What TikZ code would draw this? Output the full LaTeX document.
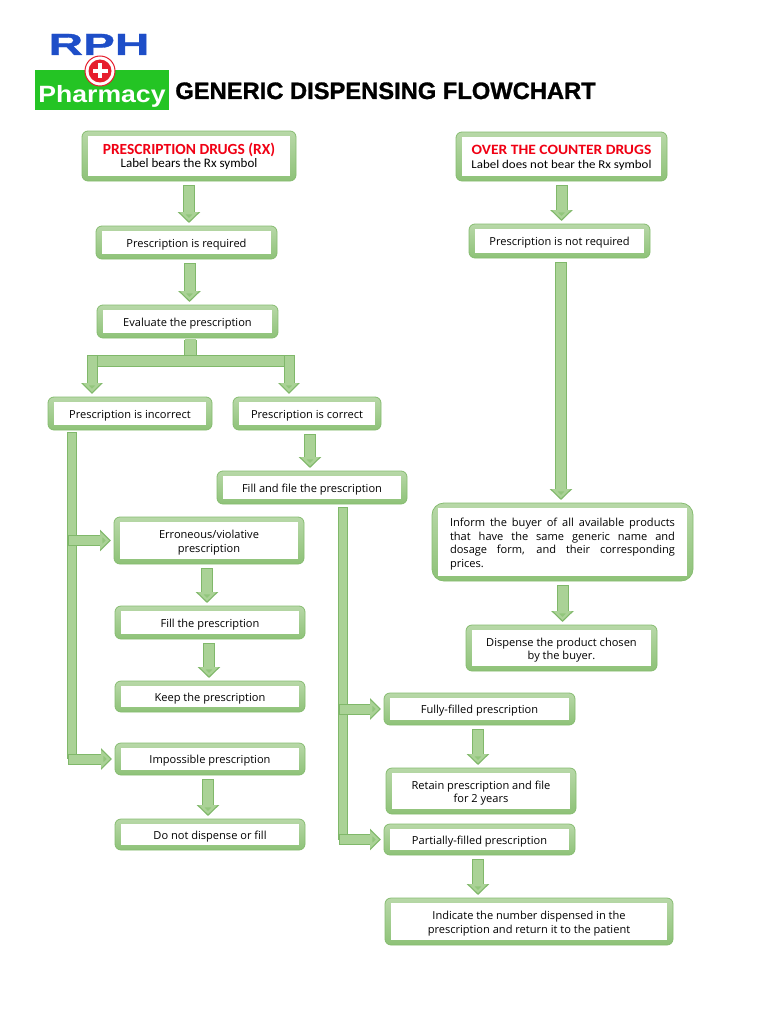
\documentclass[tikz,border=0pt]{standalone}
\usepackage{fontspec}
\setmainfont{Open Sans}
\newfontfamily\headfont{Carlito}
\newfontfamily\otcfont[FakeStretch=1.09]{Carlito}
\newfontfamily\titlefont[BoldFeatures={FakeBold=1.2}]{Liberation Sans}
\newfontfamily\rphfont[FakeStretch=1.56,BoldFeatures={FakeBold=1}]{Liberation Sans}
\newfontfamily\pharmfont[FakeStretch=1.13]{Liberation Sans}
\usetikzlibrary{calc, arrows.meta}
\definecolor{boxtop}{RGB}{184,216,168}
\definecolor{boxbot}{RGB}{142,194,120}
\definecolor{boxedge}{RGB}{134,188,112}
\definecolor{arrowfill}{RGB}{170,210,150}
\definecolor{arrowtip}{RGB}{146,198,124}
\definecolor{arrowedge}{RGB}{128,184,106}
\definecolor{logoblue}{RGB}{30,78,200}
\definecolor{logogreen}{RGB}{36,196,36}
\definecolor{logored}{RGB}{230,30,45}
\definecolor{headred}{RGB}{240,0,20}
\newdimen\px
\px=0.02cm
\tikzset{
  stepbox/.style={draw=boxedge, line width=0.8\px, top color=boxtop, bottom color=boxbot,
    rounded corners=6\px, inner sep=0pt, outer sep=0pt, align=center, text=black,
    font=\fontsize{6.3}{7.7}\selectfont,
    path picture={\fill[white, sharp corners] ($(path picture bounding box.south west)+(6\px,5\px)$)
      rectangle ($(path picture bounding box.north east)-(6\px,5\px)$);}},
  flow/.style={draw=arrowedge, line width=12\px, shorten <=4\px, shorten >=3\px,
    -{Triangle[width=0.44cm,length=0.22cm]},
    postaction={draw=arrowfill, line width=10\px, shorten <=5\px, shorten >=4.8\px,
      -{Triangle[width=0.36cm,length=0.18cm,fill=arrowtip]}}},
  branch/.style={draw=arrowedge, line width=11\px, shorten >=3\px,
    -{Triangle[width=0.42cm,length=0.22cm]},
    postaction={draw=arrowfill, line width=9\px, shorten <=1\px, shorten >=4.8\px,
      -{Triangle[width=0.34cm,length=0.18cm,fill=arrowtip]}}},
  side/.style={draw=arrowedge, line width=11\px, shorten <=-4\px, shorten >=3\px,
    -{Triangle[width=0.42cm,length=0.22cm]},
    postaction={draw=arrowfill, line width=9\px, shorten <=-3\px, shorten >=4.8\px,
      -{Triangle[width=0.34cm,length=0.18cm,fill=arrowtip]}}},
  rail/.style={draw=arrowedge, line width=#1*\px,
    postaction={draw=arrowfill, line width={(#1-2)*\px}, shorten <=1\px, shorten >=1\px}},
  rail/.default=10
}
% box given by its corners in picture pixels
\newcommand{\stepnode}[7][]{%
  \pgfmathsetmacro\xm{(#3+#5)/2}%
  \pgfmathsetmacro\ym{(#4+#6)/2}%
  \node[stepbox, minimum width={(#5-#3)*\px}, minimum height={(#6-#4)*\px}, #1] (#2) at (\xm,\ym) {\rule{0pt}{7pt}#7};
}
\newcommand{\headline}[2]{{\headfont\bfseries\fontsize{#1}{10}\selectfont\color{headred}#2}}
\newcommand{\subline}[2]{{\headfont\fontsize{#1}{8.5}\selectfont #2}}

\begin{document}
\begin{tikzpicture}[x=0.02cm, y=-0.02cm]
  \useasboundingbox (0,0) rectangle (768,1024);

  % ---------- logo and title ----------
  \node[anchor=base, text=logoblue, font=\rphfont\bfseries\fontsize{17.4}{17}\selectfont] (rph) at (99,55) {RPH};
  \fill[logogreen] (35,70) rectangle (169,110);
  \node[circle, fill=white, draw=logored, line width=1\px, minimum size=30\px, inner sep=0pt] (cross) at (100,71) {};
  \fill[logored] (cross) circle (11.5\px);
  \fill[white] (92.5,69) rectangle (107.5,73);
  \fill[white] (98,63.5) rectangle (102,78.5);
  \node[anchor=base, text=white, font=\pharmfont\bfseries\fontsize{13.4}{14}\selectfont] (logo) at (102,103) {Pharmacy};
  \node[anchor=base west, inner sep=0pt, text=black, font=\titlefont\bfseries\fontsize{13.5}{14}\selectfont] (title) at (175,99)
    {GENERIC DISPENSING FLOWCHART};

  % ---------- prescription side ----------
  \stepnode{rxhead}{82}{131}{296}{181}{\headline{8.8}{PRESCRIPTION DRUGS (RX)}\\\subline{7.4}{Label bears the Rx symbol}}
  \stepnode{rxreq}{96}{226}{277}{259}{Prescription is required}
  \stepnode{evalrx}{97}{305}{278}{338}{Evaluate the prescription}
  \stepnode{incorrect}{48}{397}{212}{430}{Prescription is incorrect}
  \stepnode{correct}{233}{397}{381}{430}{Prescription is correct}
  \stepnode{fillfile}{217}{471}{407}{504}{Fill and file the prescription}

  % ---------- incorrect branch ----------
  \stepnode{erron}{114}{517}{304}{564}{Erroneous/violative\\prescription}
  \stepnode{fillrx}{115}{606}{305}{639}{Fill the prescription}
  \stepnode{keeprx}{115}{681}{305}{712}{Keep the prescription}
  \stepnode{impos}{115}{743}{305}{775}{Impossible prescription}
  \stepnode{nofill}{115}{819}{305}{850}{Do not dispense or fill}

  % ---------- correct branch ----------
  \stepnode{fully}{384}{693}{575}{725}{Fully-filled prescription}
  \stepnode{retain}{386}{768}{576}{814}{Retain prescription and file\\for 2 years}
  \stepnode{partial}{384}{824}{575}{855}{Partially-filled prescription}
  \stepnode{indicate}{385}{898}{673}{945}{Indicate the number dispensed in the\\prescription and return it to the patient}

  % ---------- over the counter side ----------
  \stepnode{otc}{456}{132}{667}{181}{{\otcfont\bfseries\fontsize{8.1}{10}\selectfont\color{headred}OVER THE COUNTER DRUGS}\\{\otcfont\fontsize{6.75}{8.5}\selectfont Label does not bear the Rx symbol}}
  \stepnode{notreq}{469}{224}{650}{258}{Prescription is not required}
  \stepnode[rounded corners=12\px, align=justify, text width=225\px]{inform}{432}{503}{693}{581}{Inform the buyer of all available products\linebreak that have the same generic name and\linebreak dosage form, and their corresponding\linebreak prices.}
  \stepnode{dispense}{466}{625}{657}{671}{Dispense the product chosen\\by the buyer.}

  % ---------- straight arrows ----------
  \draw[flow] (rxhead.south) -- (rxhead.south |- rxreq.north);
  \draw[flow] ([xshift=3\px]rxreq.south) -- ([xshift=3\px]rxreq.south |- evalrx.north);
  \draw[flow] (otc.south) -- (otc.south |- notreq.north);
  \draw[flow] ([xshift=1.5\px]notreq.south) -- ([xshift=1.5\px]notreq.south |- inform.north);
  \draw[flow] (inform.south) -- (inform.south |- dispense.north);
  \draw[flow] ([xshift=3\px]correct.south) -- ([xshift=3\px]correct.south |- fillfile.north);
  \draw[flow] ([xshift=-2\px]erron.south) -- ([xshift=-2\px]erron.south |- fillrx.north);
  \draw[flow] ([xshift=-1\px]fillrx.south) -- ([xshift=-1\px]fillrx.south |- keeprx.north);
  \draw[flow] ([xshift=-2\px]impos.south) -- ([xshift=-2\px]impos.south |- nofill.north);
  \draw[flow] ([xshift=-1.5\px]fully.south) -- ([xshift=-1.5\px]fully.south |- retain.north);
  \draw[flow] ([xshift=-1.5\px]partial.south) -- ([xshift=-1.5\px]partial.south |- indicate.north);

  % ---------- split under the evaluation ----------
  \coordinate (dropl) at (92,355);
  \coordinate (dropr) at (289,355);
  \coordinate (barl) at (92,361);
  \coordinate (barr) at (289,361);
  \draw[rail=13, shorten <=2\px] ([xshift=3\px]evalrx.south) -- ([xshift=3\px]evalrx.south |- barl);
  \draw[rail=12] (barl) -- (barr);
  \draw[branch] (dropl) -- (dropl |- incorrect.north);
  \draw[branch] (dropr) -- (dropr |- correct.north);

  % ---------- long rails with side arrows ----------
  \coordinate (railinc) at (71.5,432);
  \coordinate (railfill) at (342.5,507);
  \draw[rail] (railinc) -- (railinc |- impos.west);
  \draw[side] (railinc |- erron.west) -- (erron.west);
  \draw[side] (railinc |- impos.west) -- (impos.west);
  \draw[rail] (railfill) -- (railfill |- partial.west);
  \draw[side] (railfill |- fully.west) -- (fully.west);
  \draw[side] (railfill |- partial.west) -- (partial.west);
\end{tikzpicture}
\end{document}
